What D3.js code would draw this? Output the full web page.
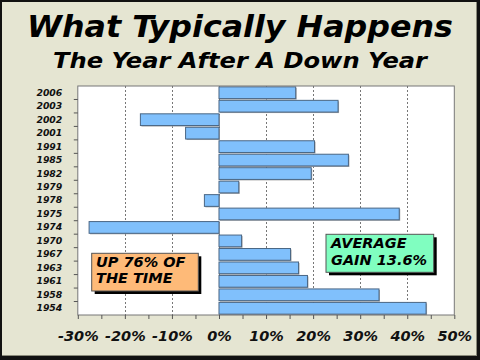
<!DOCTYPE html>
<html><head><meta charset="utf-8">
<script src="https://cdn.jsdelivr.net/npm/d3@7/dist/d3.min.js"></script>
<style>body{margin:0;background:#fff}svg{display:block}</style>
</head><body>
<script>
const categories = ["2006","2003","2002","2001","1991","1985","1982","1979","1978","1975","1974","1970","1967","1963","1961","1958","1954"];
const values = [16.3,25.3,-16.7,-7.1,20.3,27.5,19.6,4.2,-3.1,38.3,-27.6,4.8,15.2,16.9,18.8,34.0,44.0];
const xTickValues = [-30,-20,-10,0,10,20,30,40,50];
const xMinorTicks = [-30,-25,-20,-15,-10,-5,0,5,10,15,20,25,30,35,40,45,50];
const gridValues = [-20,-10,0,10,20,30,40];
const titleLines = ["What Typically Happens","The Year After A Down Year"];
const noteUp = ["UP 76% OF","THE TIME"];
const noteAvg = ["AVERAGE","GAIN 13.6%"];

const W=480,H=360;
const svg=d3.select("body").append("svg").attr("width",W).attr("height",H);
const font="'DejaVu Sans', Verdana, sans-serif";

// frame
svg.append("rect").attr("width",W).attr("height",H).attr("fill","#111");
svg.append("rect").attr("x",2).attr("y",2).attr("width",474.5).attr("height",353).attr("fill","#e5e5d2");
svg.append("line").attr("x1",476.5).attr("x2",476.5).attr("y1",2).attr("y2",355.5).attr("stroke","#8a8a7a");
svg.append("line").attr("x1",2).attr("x2",477).attr("y1",355.5).attr("y2",355.5).attr("stroke","#8a8a7a");

// titles
svg.append("text").attr("x",240).attr("y",37).attr("text-anchor","middle")
  .attr("font-family",font).attr("font-weight","bold").attr("font-style","italic")
  .attr("font-size",30).attr("textLength",426).attr("lengthAdjust","spacingAndGlyphs").text(titleLines[0]);
svg.append("text").attr("x",240).attr("y",68).attr("text-anchor","middle")
  .attr("font-family",font).attr("font-weight","bold").attr("font-style","italic")
  .attr("font-size",21).attr("textLength",374).attr("lengthAdjust","spacingAndGlyphs").text(titleLines[1]);

const L=77.8,R=454.3,T=86,B=315;
const x=d3.scaleLinear().domain([-30,50]).range([L,R]);
const y=d3.scaleBand().domain(categories).range([T,B]).paddingInner(0.13).paddingOuter(0.065);

// plot area
svg.append("rect").attr("x",L).attr("y",T).attr("width",R-L).attr("height",B-T).attr("fill","#fff");

// gridlines
svg.append("g").selectAll("line").data(gridValues).join("line")
  .attr("x1",d=>Math.round(x(d))+0.5).attr("x2",d=>Math.round(x(d))+0.5)
  .attr("y1",T).attr("y2",B).attr("stroke","#777").attr("stroke-dasharray","2,2");

// bars
const data=categories.map((c,i)=>({c,v:values[i]}));
svg.append("g").selectAll("rect.sh").data(data).join("rect")
  .attr("x",d=>x(Math.min(0,d.v))+1).attr("y",d=>y(d.c)+1)
  .attr("width",d=>Math.abs(x(d.v)-x(0))).attr("height",y.bandwidth())
  .attr("fill","#a8a8a8");
svg.append("g").selectAll("rect.bar").data(data).join("rect")
  .attr("x",d=>x(Math.min(0,d.v))).attr("y",d=>y(d.c))
  .attr("width",d=>Math.abs(x(d.v)-x(0))).attr("height",y.bandwidth())
  .attr("fill","#80c0fc").attr("stroke","#4a6684").attr("stroke-width",1);

// plot border
svg.append("rect").attr("x",L).attr("y",T).attr("width",R-L).attr("height",B-T)
  .attr("fill","none").attr("stroke","#777");

// y boundary ticks
const bounds=categories.slice(1).map((c)=>y(c)-y.step()*y.paddingInner()/2);
svg.append("g").selectAll("line").data(bounds).join("line")
  .attr("x1",L-4).attr("x2",L).attr("y1",d=>d).attr("y2",d=>d).attr("stroke","#555");

// y axis labels
const yAxis=svg.append("g").attr("transform",`translate(${L},0)`)
  .call(d3.axisLeft(y).tickSize(0).tickPadding(15.5));
yAxis.select(".domain").remove();
yAxis.selectAll("text").attr("font-family",font).attr("font-weight","bold")
  .attr("font-style","italic").attr("font-size",9.3).attr("fill","#111");

// x axis
const xAxis=svg.append("g").attr("transform",`translate(0,${B})`)
  .call(d3.axisBottom(x).tickValues(xMinorTicks).tickSize(4).tickPadding(12)
    .tickFormat(d=>xTickValues.includes(d)?d+"%":""));
xAxis.select(".domain").remove();
xAxis.selectAll("line").attr("stroke","#555");
xAxis.selectAll("text").attr("font-family",font).attr("font-weight","bold")
  .attr("font-style","italic").attr("font-size",14.5).attr("fill","#111");

// notes
function note(x0,y0,w,h,fill,lines,tx,ty){
  const g=svg.append("g");
  g.append("rect").attr("x",x0+3).attr("y",y0+3).attr("width",w).attr("height",h).attr("fill","#000");
  g.append("rect").attr("x",x0).attr("y",y0).attr("width",w).attr("height",h).attr("fill",fill).attr("stroke","#555");
  lines.forEach((t,i)=>g.append("text").attr("x",tx).attr("y",ty+i*16.7)
    .attr("font-family",font).attr("font-weight","bold").attr("font-style","italic")
    .attr("font-size",14.5).attr("fill","#000").text(t));
}
note(91.7,253.3,106.6,37.7,"#feba78",noteUp,96,266.7);
note(326,234.3,107.7,38,"#80fec0",noteAvg,331,248.3);
</script>
</body></html>
